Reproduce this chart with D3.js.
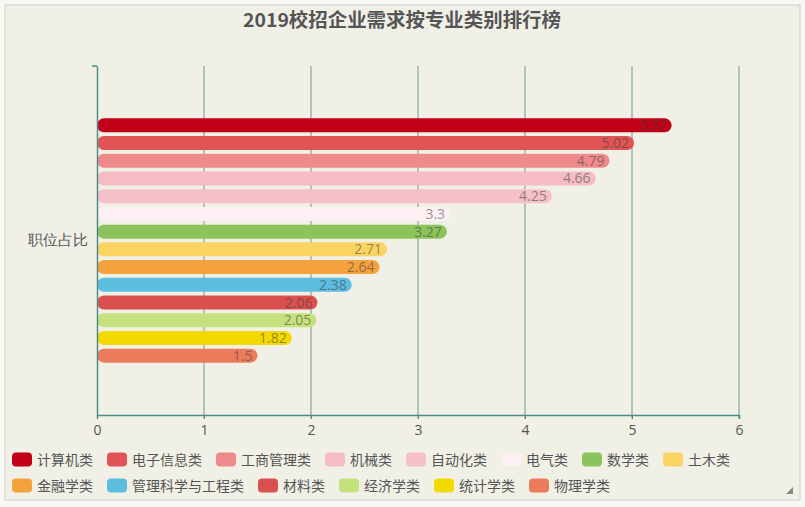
<!DOCTYPE html>
<html><head><meta charset="utf-8">
<script src="https://cdn.jsdelivr.net/npm/d3@7/dist/d3.min.js"></script>
<style>
html,body{margin:0;padding:0;background:#f7f7f3;}
svg{display:block;font-family:"Noto Sans CJK SC","Noto Sans",sans-serif;}
</style></head>
<body><svg id="chart" width="805" height="507"></svg>
<script>
const title = "2019校招企业需求按专业类别排行榜";
const categories = ["职位占比"];
const seriesNames = ["计算机类","电子信息类","工商管理类","机械类","自动化类","电气类","数学类","土木类","金融学类","管理科学与工程类","材料类","经济学类","统计学类","物理学类"];
const seriesValues = [5.37,5.02,4.79,4.66,4.25,3.3,3.27,2.71,2.64,2.38,2.06,2.05,1.82,1.5];
const seriesColors = ["#c00017","#e05456","#ee8a8c","#f5bcc5","#f5c0c9","#fcf0f3","#8dc35b","#f9d462","#f3a23e","#5cbde0","#d9504f","#c5e17e","#f2d900","#ec7b5b"];
const xTicks = [0,1,2,3,4,5,6];
const legendRows = [8,6];

const svg = d3.select("#chart");
// frame
svg.append("rect").attr("x",5).attr("y",5).attr("width",795).attr("height",495)
  .attr("fill","#f1f0e7").attr("stroke","#d6d6d0").attr("stroke-width",1.2);

svg.append("text").attr("x",402).attr("y",27).attr("text-anchor","middle")
  .attr("font-size",19).attr("font-weight","bold").attr("fill","#555")
  .attr("textLength",318).attr("lengthAdjust","spacingAndGlyphs").text(title);

const x = d3.scaleLinear().domain([0,6]).range([97,739]);
const y0 = d3.scaleBand().domain(categories).range([66,415]).padding(0);
const axisColor = "#4f8a86";

// grid
svg.append("g").selectAll("line").data(xTicks.filter(t=>t>0)).join("line")
  .attr("x1",d=>x(d)).attr("x2",d=>x(d)).attr("y1",66).attr("y2",419)
  .attr("stroke","#6f9794").attr("stroke-width",1);

// bars
categories.forEach(c=>{
  const b0 = y0(c), bw = y0.bandwidth();
  const y1 = d3.scaleBand().domain(seriesNames).range([b0+bw*0.15, b0+bw*0.85]).paddingInner(0.21).paddingOuter(0);
  const g = svg.append("g");
  const data = seriesNames.map((n,i)=>({n, v:seriesValues[i], c:seriesColors[i]}));
  g.selectAll("rect").data(data).join("rect")
    .attr("x",x(0)).attr("y",d=>y1(d.n))
    .attr("width",d=>x(d.v)-x(0)).attr("height",y1.bandwidth())
    .attr("rx",y1.bandwidth()/2).attr("fill",d=>d.c);
  g.selectAll("text").data(data).join("text")
    .attr("x",d=>x(d.v)-5).attr("y",d=>y1(d.n)+y1.bandwidth()/2+5)
    .attr("text-anchor","end").attr("font-size",14)
    .attr("font-family","'Open Sans','Noto Sans',sans-serif")
    .attr("fill","rgba(60,60,60,0.55)").text(d=>d.v);
});

// x axis
const xAxis = svg.append("g").attr("transform","translate(0,415)")
  .call(d3.axisBottom(x).tickValues(xTicks).tickSize(4).tickFormat(d3.format("d")));
xAxis.select(".domain").attr("stroke",axisColor).attr("stroke-width",1.5);
xAxis.selectAll(".tick line").attr("stroke",axisColor);
xAxis.selectAll(".tick text").attr("fill","#555").attr("font-size",14)
  .attr("font-family","'Open Sans','Noto Sans',sans-serif").attr("dy","0.9em");

// y axis
const yAxis = svg.append("g").attr("transform","translate(97,0)")
  .call(d3.axisLeft(y0).tickSize(0).tickPadding(9));
yAxis.select(".domain").attr("stroke",axisColor).attr("stroke-width",1.5);
yAxis.selectAll(".tick text").attr("fill","#555").attr("font-size",15);
svg.append("line").attr("x1",92).attr("x2",97).attr("y1",66).attr("y2",66)
  .attr("stroke",axisColor).attr("stroke-width",1.5);

// legend
const lg = svg.append("g");
let idx = 0;
legendRows.forEach((cnt,r)=>{
  let cx = 12;
  const cy = 459.5 + r*26;
  for(let k=0;k<cnt;k++,idx++){
    const i = idx;
    lg.append("rect").attr("x",cx).attr("y",cy-7).attr("width",20).attr("height",14)
      .attr("rx",4).attr("fill",seriesColors[i]);
    const t = lg.append("text").attr("x",cx+25).attr("y",cy+5).attr("font-size",14)
      .attr("fill","#555").text(seriesNames[i]);
    const w = t.node().getComputedTextLength();
    cx += 25 + w + 14;
  }
});

// resize grip
svg.append("path").attr("d","M786,494 L793,487 L793,494 Z").attr("fill","#888");
</script></body></html>
